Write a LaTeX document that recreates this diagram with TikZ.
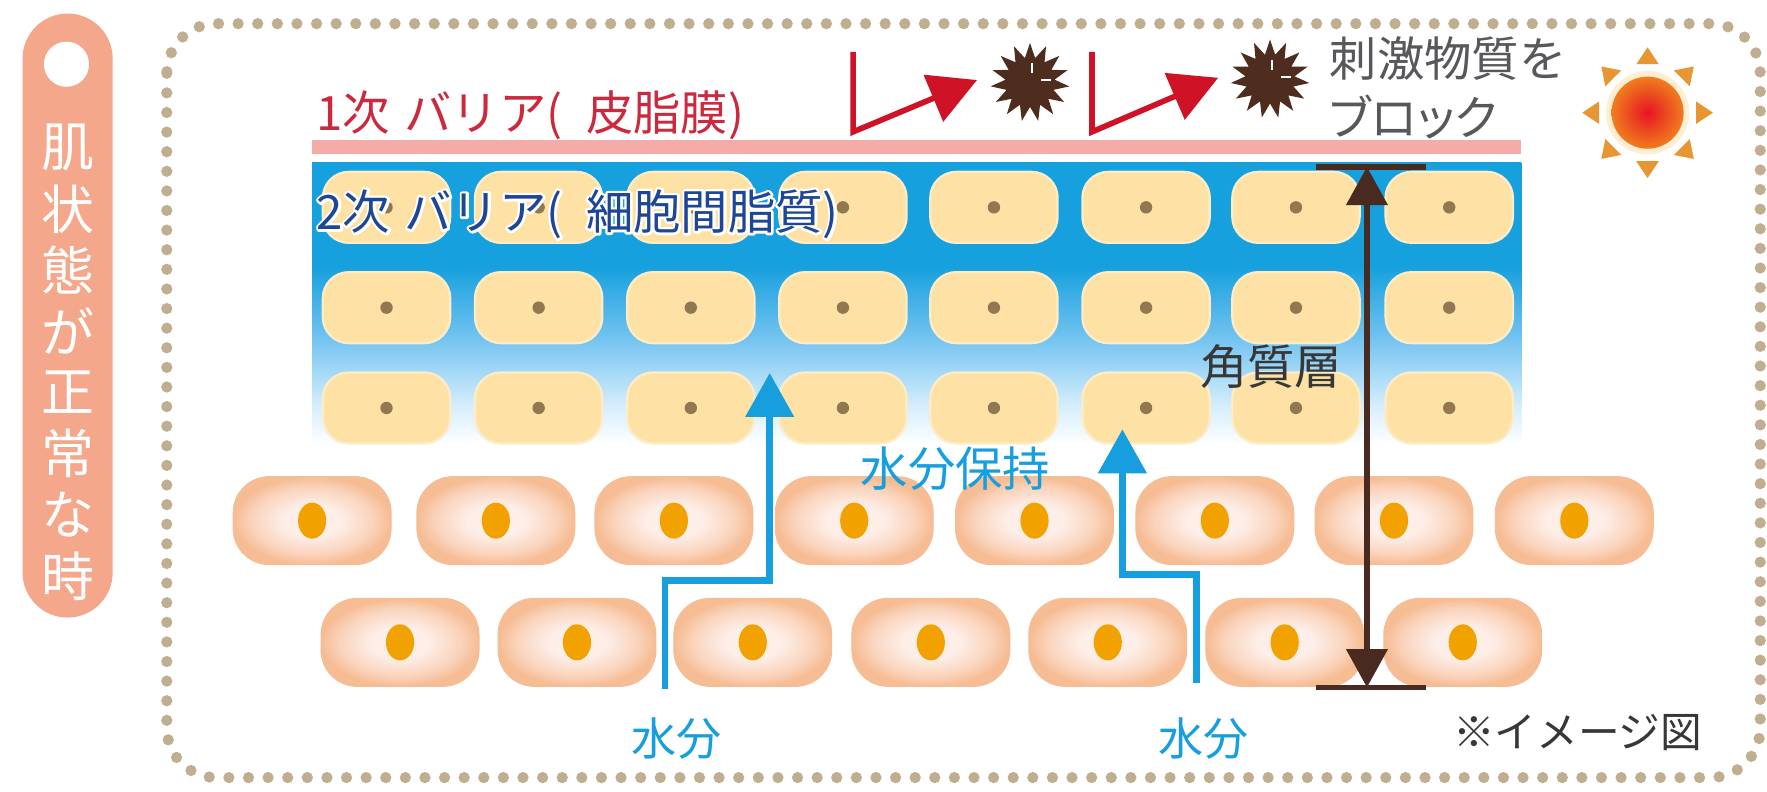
\documentclass[tikz,border=0pt]{standalone}
\usepackage{fontspec}
\newfontfamily\jp{Noto Sans CJK JP}
\newfontfamily\jpp[RawFeature=+palt]{Noto Sans CJK JP}
\usetikzlibrary{arrows.meta,shapes.geometric}

\definecolor{pillc}{RGB}{244,167,138}
\definecolor{dotc}{RGB}{192,174,145}
\definecolor{redtext}{RGB}{204,40,62}
\definecolor{navytext}{RGB}{30,70,150}
\definecolor{sebum}{RGB}{245,172,168}
\definecolor{barrierblue}{RGB}{22,160,222}
\definecolor{barriermid}{RGB}{115,195,240}
\definecolor{barrierpale}{RGB}{212,237,252}
\definecolor{corneo}{RGB}{253,225,165}
\definecolor{corneoedge}{RGB}{253,236,200}
\definecolor{corneodot}{RGB}{145,120,80}
\definecolor{cellout}{RGB}{246,188,148}
\definecolor{cellmid}{RGB}{250,212,188}
\definecolor{cellin}{RGB}{253,238,232}
\definecolor{nucleusc}{RGB}{242,162,0}
\definecolor{waterblue}{RGB}{22,158,222}
\definecolor{layerbrown}{RGB}{72,42,32}
\definecolor{blockred}{RGB}{208,18,38}
\definecolor{burstc}{RGB}{78,44,30}
\definecolor{sunray}{RGB}{232,150,50}
\definecolor{sunin}{RGB}{232,20,35}
\definecolor{sunout}{RGB}{240,125,30}
\definecolor{sunglow}{RGB}{255,238,210}
\definecolor{graytext}{RGB}{88,88,92}
\definecolor{darktext}{RGB}{55,55,55}

% stratum corneum background: solid blue at the top fading to white
\pgfdeclareverticalshading{barriershade}{100bp}{color(0bp)=(white); color(25bp)=(white); color(26bp)=(white); color(33bp)=(barrierpale); color(44.5bp)=(barriermid); color(57bp)=(barrierblue); color(100bp)=(barrierblue)}
% living cell: pale centre, peach rim
\pgfdeclareradialshading{livecellshade}{\pgfpoint{0bp}{0bp}}{color(0bp)=(cellin); color(9bp)=(cellin); color(19bp)=(cellmid); color(25bp)=(cellout); color(50bp)=(cellout)}

% text with a white stroked outline behind it
\newcommand\outlinedtext[1]{%
  \makebox[0pt][l]{\color{white}\special{pdf:literal direct 1 Tr 4.4 w 1 j}#1\special{pdf:literal direct 0 Tr}}%
  #1}

\begin{document}
\begin{tikzpicture}[x=1pt,y=-1pt,
  every node/.style={inner sep=0pt, outer sep=0pt},
  framedots/.style={draw=dotc, line width=10pt, line cap=round, dash pattern=on 0pt off 17.4pt},
  pilltext/.style={text=white, font=\jp\fontsize{47}{47}\selectfont},
  corneocyte/.style={fill=corneo, draw=corneoedge, line width=2pt, rounded corners=23pt, minimum width=113pt, minimum height=63pt},
  livecell/.style={shade, shading=livecellshade, draw=cellout, line width=1pt, rounded corners=32pt, minimum width=140pt, minimum height=78pt},
  label42/.style={font=\jp\fontsize{42}{42}\selectfont},
  waterarrow/.style={draw=waterblue, line width=6pt, line join=miter, -{Triangle[length=39pt,width=42pt]}},
  blockarrow/.style={draw=blockred, line width=5pt, line join=miter, -{Triangle[length=42pt,width=44pt]}},
  burst/.style={star, star points=15, star point ratio=1.6, minimum size=70pt, fill=burstc},
]
\useasboundingbox (0,0) rectangle (1568,702);
\fill[white] (0,0) rectangle (1568,702);

% dotted frame
\draw[framedots, rounded corners=44pt] (148,21) rectangle (1562,690);

% side tab
\fill[pillc, rounded corners=40pt] (20,12) rectangle (100,548);
\fill[white] (59,57) circle (20);
\foreach \ch [count=\i] in {肌,状,態,が,正,常,な,時}
  \node[pilltext] (tab-\i) at (60,{131+54.3*(\i-1)}) {\ch};

% sebum film and stratum corneum
\fill[sebum] (277,124) rectangle (1350,137);
\shade[shading=barriershade] (277,144) rectangle (1350,400);

\foreach \y [count=\r] in {184,273,362}
  \foreach \x [count=\c] in {343,478,613,748,882,1017,1150,1286} {
    \node[corneocyte] (cc-\r-\c) at (\x,\y) {};
    \fill[corneodot] (cc-\r-\c.center) circle (5.5);
  }

% living cells
\foreach \x [count=\c] in {277,440,598,758,918,1078,1237,1397} {
  \node[livecell] (la-\c) at (\x,462) {};
  \fill[nucleusc] (la-\c.center) ellipse (12.5 and 16);
}
\foreach \x [count=\c] in {355,512,668,826,983,1140,1298} {
  \node[livecell] (lb-\c) at (\x,570) {};
  \fill[nucleusc] (lb-\c.center) ellipse (12.5 and 16);
}

% barrier labels
\node[label42, anchor=west, text=redtext] (barrier1) at (281,102) {1次\hspace{0.3em}バリア(\hspace{0.5em}皮脂膜)};
\node[label42, anchor=west, text=navytext] (barrier2) at (281,190) {\outlinedtext{2次\hspace{0.3em}バリア(\hspace{0.5em}細胞間脂質)}};

% water paths
\node[text=waterblue, font=\jp\fontsize{40}{40}\selectfont] (water1) at (600,655) {水分};
\node[text=waterblue, font=\jp\fontsize{40}{40}\selectfont] (water2) at (1068,655) {水分};
\node[label42, text=waterblue] (keep) at (848,416) {水分保持};
\coordinate (w1a) at (590,611);
\coordinate (w1b) at (590,515);
\coordinate (w1c) at (683,515);
\coordinate (w1d) at (683,331);
\coordinate (w2a) at (1062,606);
\coordinate (w2b) at (1062,510);
\coordinate (w2c) at (996,510);
\coordinate (w2d) at (996,381);
\draw[waterarrow] (w1a) -- (w1b) -- (w1c) -- (w1d);
\draw[waterarrow] (w2a) -- (w2b) -- (w2c) -- (w2d);

% stratum corneum thickness
\coordinate (top) at (1213,148);
\coordinate (bot) at (1213,610);
\draw[layerbrown, line width=5pt] (1168,148) -- (1265,148);
\draw[layerbrown, line width=5pt] (1168,610) -- (1265,610);
\draw[layerbrown, line width=5pt, {Triangle[length=34pt,width=36pt]}-{Triangle[length=34pt,width=36pt]}] (top) -- (bot);
\node[label42, text=darktext] (layer) at (1128,325) {角質層};

% irritants bounced off the sebum film
\node[burst] (b1) at (914,73) {};
\node[burst] (b2) at (1127,70) {};
\draw[white, line width=1.6pt] (916,56) -- (916,65);
\draw[white, line width=1.6pt] (924,71) -- (933,71);
\draw[white, line width=1.6pt] (1129,53) -- (1129,62);
\draw[white, line width=1.6pt] (1137,68) -- (1146,68);
\coordinate (r1a) at (757,46);
\coordinate (r1b) at (757,117);
\coordinate (r1c) at (867,71);
\coordinate (r2a) at (969,46);
\coordinate (r2b) at (969,117);
\coordinate (r2c) at (1081,69);
\draw[blockarrow] (r1a) -- (r1b) -- (r1c);
\draw[blockarrow] (r2a) -- (r2b) -- (r2c);
\node[label42, anchor=west, text=graytext] (block1) at (1180,52) {刺激物質を};
\node[label42, anchor=west, text=graytext, font=\jpp\fontsize{42}{42}\selectfont] (block2) at (1180,104) {ブロック};

% sun
\fill[sunglow] (1462,100) circle (37);
\shade[inner color=sunin, outer color=sunout] (1462,100) circle (32);
\foreach \a in {0,45,...,315}
  \fill[sunray, rotate around={\a:(1462,100)}] (1505,90) -- (1520,100) -- (1505,110) -- cycle;

% note
\node[text=darktext, font=\jp\fontsize{37}{37}\selectfont] (note) at (1400,650) {※イメージ図};
\end{tikzpicture}
\end{document}
